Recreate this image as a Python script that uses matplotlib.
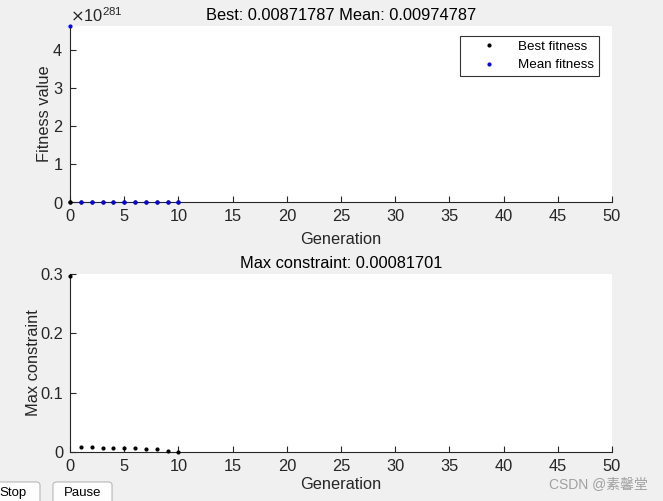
import matplotlib
matplotlib.use('Agg')
from matplotlib import pyplot as plt
from matplotlib.ticker import ScalarFormatter
from matplotlib.patches import FancyBboxPatch

plt.rcParams['font.family'] = ['Liberation Sans', 'Noto Sans CJK SC', 'DejaVu Sans']

# generations 0..10
generations = [0, 1, 2, 3, 4, 5, 6, 7, 8, 9, 10]
best_fitness = [0.0412, 0.0305, 0.0221, 0.0168, 0.0134, 0.0112, 0.0101, 0.0095,
                0.0091, 0.0088, 0.00871787]
mean_fitness = [4.63e281, 0.0853, 0.0402, 0.0257, 0.0188, 0.0142, 0.0121, 0.0109,
                0.0102, 0.0099, 0.00974787]
max_constraint = [0.297, 0.0080, 0.0077, 0.0074, 0.0071, 0.0062, 0.0060, 0.0057,
                  0.0049, 0.0016, 0.00081701]
xticks = list(range(0, 55, 5))

bg = '#f0f0f0'
txt = '#262626'
fs = 11.8
fig = plt.figure(figsize=(6.63, 5.01), dpi=100, facecolor=bg)

ax1 = fig.add_axes([0.1056, 0.5968, 0.8175, 0.3513])
ax2 = fig.add_axes([0.1056, 0.0978, 0.8175, 0.3553])

for ax in (ax1, ax2):
    ax.spines['top'].set_visible(False)
    ax.spines['right'].set_visible(False)
    ax.spines['left'].set_color(txt)
    ax.spines['bottom'].set_color(txt)
    ax.tick_params(direction='in', length=4, labelsize=fs, colors=txt, pad=5)
    ax.set_xlim(0, 50)
    ax.set_xticks(xticks)
ax1.set_xlabel('Generation', fontsize=fs, color=txt, labelpad=6)
ax2.set_xlabel('Generation', fontsize=fs, color=txt, labelpad=2)

# top: fitness
ax1.plot(generations, best_fitness, '.', color='black', markersize=4,
         label='Best fitness', clip_on=False, zorder=3)
ax1.plot(generations, mean_fitness, '.', color='blue', markersize=4,
         label='Mean fitness', clip_on=False, zorder=3)
ax1.plot(generations[:1], best_fitness[:1], '.', color='black', markersize=4,
         clip_on=False, zorder=4)
ax1.set_ylim(0, max(mean_fitness))
ax1.set_yticks([0, 1e281, 2e281, 3e281, 4e281])
fmt = ScalarFormatter(useMathText=True)
fmt.set_scientific(True)
ax1.yaxis.set_major_formatter(fmt)
ax1.yaxis.get_offset_text().set_fontsize(fs)
ax1.yaxis.get_offset_text().set_color(txt)
ax1.set_ylabel('Fitness value', fontsize=fs, color=txt, va='center')
ax1.yaxis.set_label_coords(-0.047, 0.5)
ax1.set_title('Best: 0.00871787 Mean: 0.00974787', fontsize=fs, pad=4)
leg = ax1.legend(loc='upper right', fontsize=9.6, frameon=True, fancybox=False,
                 edgecolor='black', handletextpad=0.4, borderpad=0.35,
                 labelspacing=0.45, handlelength=3.6, borderaxespad=0,
                 bbox_to_anchor=(0.976, 0.943))
leg.get_frame().set_linewidth(0.8)

# bottom: constraint
ax2.plot(generations, max_constraint, '.', color='black', markersize=4,
         clip_on=False, zorder=3)
ax2.set_ylim(0, 0.3)
ax2.set_yticks([0, 0.1, 0.2, 0.3])
ax2.set_yticklabels(['0', '0.1', '0.2', '0.3'])
ax2.set_ylabel('Max constraint', fontsize=fs, color=txt, va='center')
ax2.yaxis.set_label_coords(-0.068, 0.5)
ax2.set_title('Max constraint: 0.00081701', fontsize=fs, pad=4)

# buttons
for x0, x1 in [(-0.03, 0.0603), (0.0799, 0.169)]:
    fig.patches.append(FancyBboxPatch((x0, -0.02), x1 - x0, 0.058,
                                      boxstyle='round,pad=0,rounding_size=0.006',
                                      fc='#fdfdfd', ec='#b8b8b8', lw=0.8,
                                      transform=fig.transFigure, figure=fig))
fig.text(0.019, 0.016, 'Stop', fontsize=9.5, ha='center', va='center')
fig.text(0.1245, 0.016, 'Pause', fontsize=9.5, ha='center', va='center')

# watermark
fig.text(0.977, 0.034, 'CSDN @素馨堂', fontsize=10, color='#a0a0a0', ha='right', va='center')

plt.savefig('out.png', dpi=100, facecolor=bg)
